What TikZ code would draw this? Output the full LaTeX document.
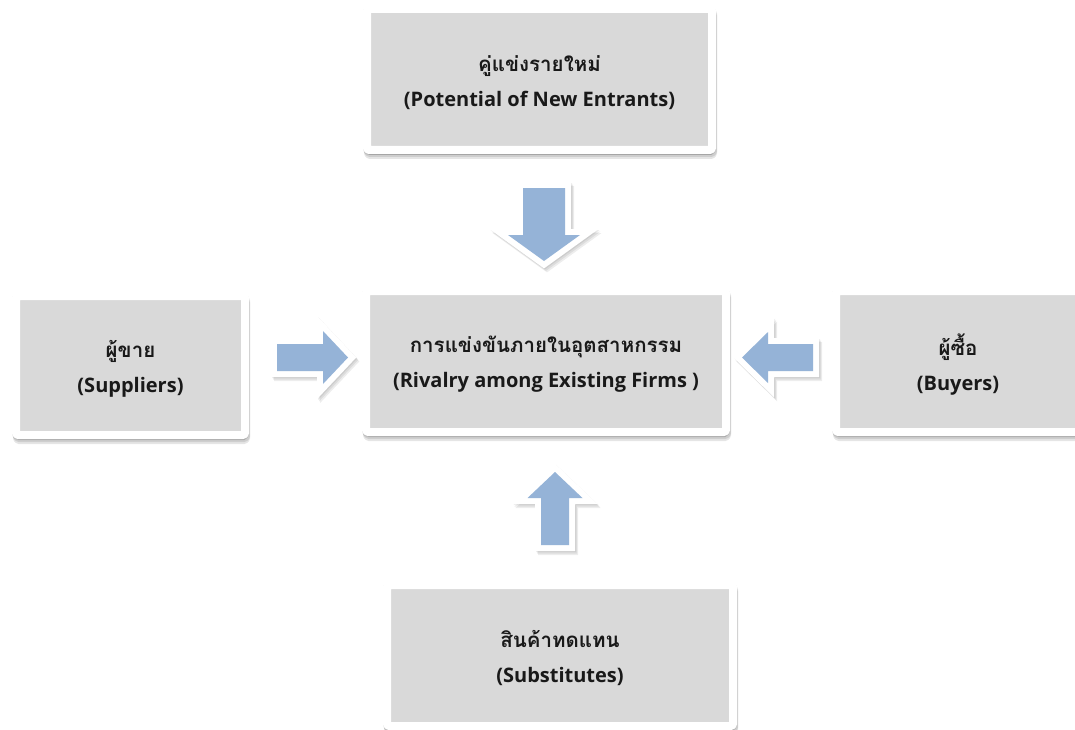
\documentclass[tikz,border=0pt]{standalone}
\usepackage{fontspec}
\setmainfont{Open Sans}
\newfontfamily\thaifont[Script=Thai]{Loma}
\definecolor{boxgray}{HTML}{D9D9D9}
\definecolor{arrowblue}{HTML}{95B3D7}
\begin{document}
\begin{tikzpicture}[x=1pt,y=-1pt,
  boxshadow/.style={draw=black, fill=black, opacity=0.10, line width=8pt, line join=round, rounded corners=1.5pt},
  box/.style={rectangle, fill=boxgray, draw=white, line width=8pt, line join=round, rounded corners=1.5pt,
    inner sep=0pt,
    preaction={boxshadow, transform canvas={xshift=1pt,yshift=-5pt}},
    preaction={boxshadow, transform canvas={xshift=1pt,yshift=-3pt}},
    preaction={boxshadow, transform canvas={xshift=0pt,yshift=-1pt}}},
  boxtext/.style={align=center, inner sep=0pt, text=black!90, yshift=-3pt,
    font=\fontsize{20}{35}\selectfont\bfseries},
  arrowshadow/.style={draw=black, fill=black, opacity=0.07, line width=12pt, line join=miter},
  blockarrow/.style={fill=arrowblue,
    preaction={arrowshadow, transform canvas={xshift=3pt,yshift=-4pt}},
    preaction={arrowshadow, transform canvas={xshift=2pt,yshift=-2.5pt}},
    preaction={arrowshadow, transform canvas={xshift=1pt,yshift=-1pt}},
    preaction={draw=white, fill=white, line width=12pt, line join=miter}}
]
\useasboundingbox (0,0) rectangle (1075,730);
\newcommand\thl[1]{{\thaifont\fontsize{20.5}{35}\selectfont #1}}

\node[box, minimum width=345pt, minimum height=141pt] (entrants) at (539.5,79.5) {};
\node[boxtext] (entrants-t) at (entrants.center) {\thl{คู่แข่งรายใหม่}\\(Potential of New Entrants)};
\node[box, minimum width=360pt, minimum height=141pt] (rivalry) at (546,361.5) {};
\node[boxtext] (rivalry-t) at (rivalry.center) {\thl{การแข่งขันภายในอุตสาหกรรม}\\(Rivalry among Existing Firms )};
\node[box, minimum width=229pt, minimum height=139pt] (suppliers) at (130.5,365.5) {};
\node[boxtext] (suppliers-t) at (suppliers.center) {\thl{ผู้ขาย}\\(Suppliers)};
\node[box, minimum width=244pt, minimum height=141pt] (buyers) at (958,361.5) {};
\node[boxtext] (buyers-t) at (buyers.center) {\thl{ผู้ซื้อ}\\(Buyers)};
\node[box, minimum width=346pt, minimum height=141pt] (subs) at (560,655.5) {};
\node[boxtext] (subs-t) at (subs.center) {\thl{สินค้าทดแทน}\\(Substitutes)};

% block arrows
\path[blockarrow] (523,188) -- (565,188) -- (565,235) -- (580,235) -- (544,261) -- (508,235) -- (523,235) -- cycle;
\path[blockarrow] (541,545) -- (541,498) -- (527.5,498) -- (555,472) -- (582.5,498) -- (569,498) -- (569,545) -- cycle;
\path[blockarrow] (277,344) -- (323,344) -- (323,331) -- (348,357.5) -- (323,384) -- (323,371) -- (277,371) -- cycle;
\path[blockarrow] (813,344) -- (768,344) -- (768,332) -- (742,357.5) -- (768,383) -- (768,371) -- (813,371) -- cycle;
\end{tikzpicture}
\end{document}
